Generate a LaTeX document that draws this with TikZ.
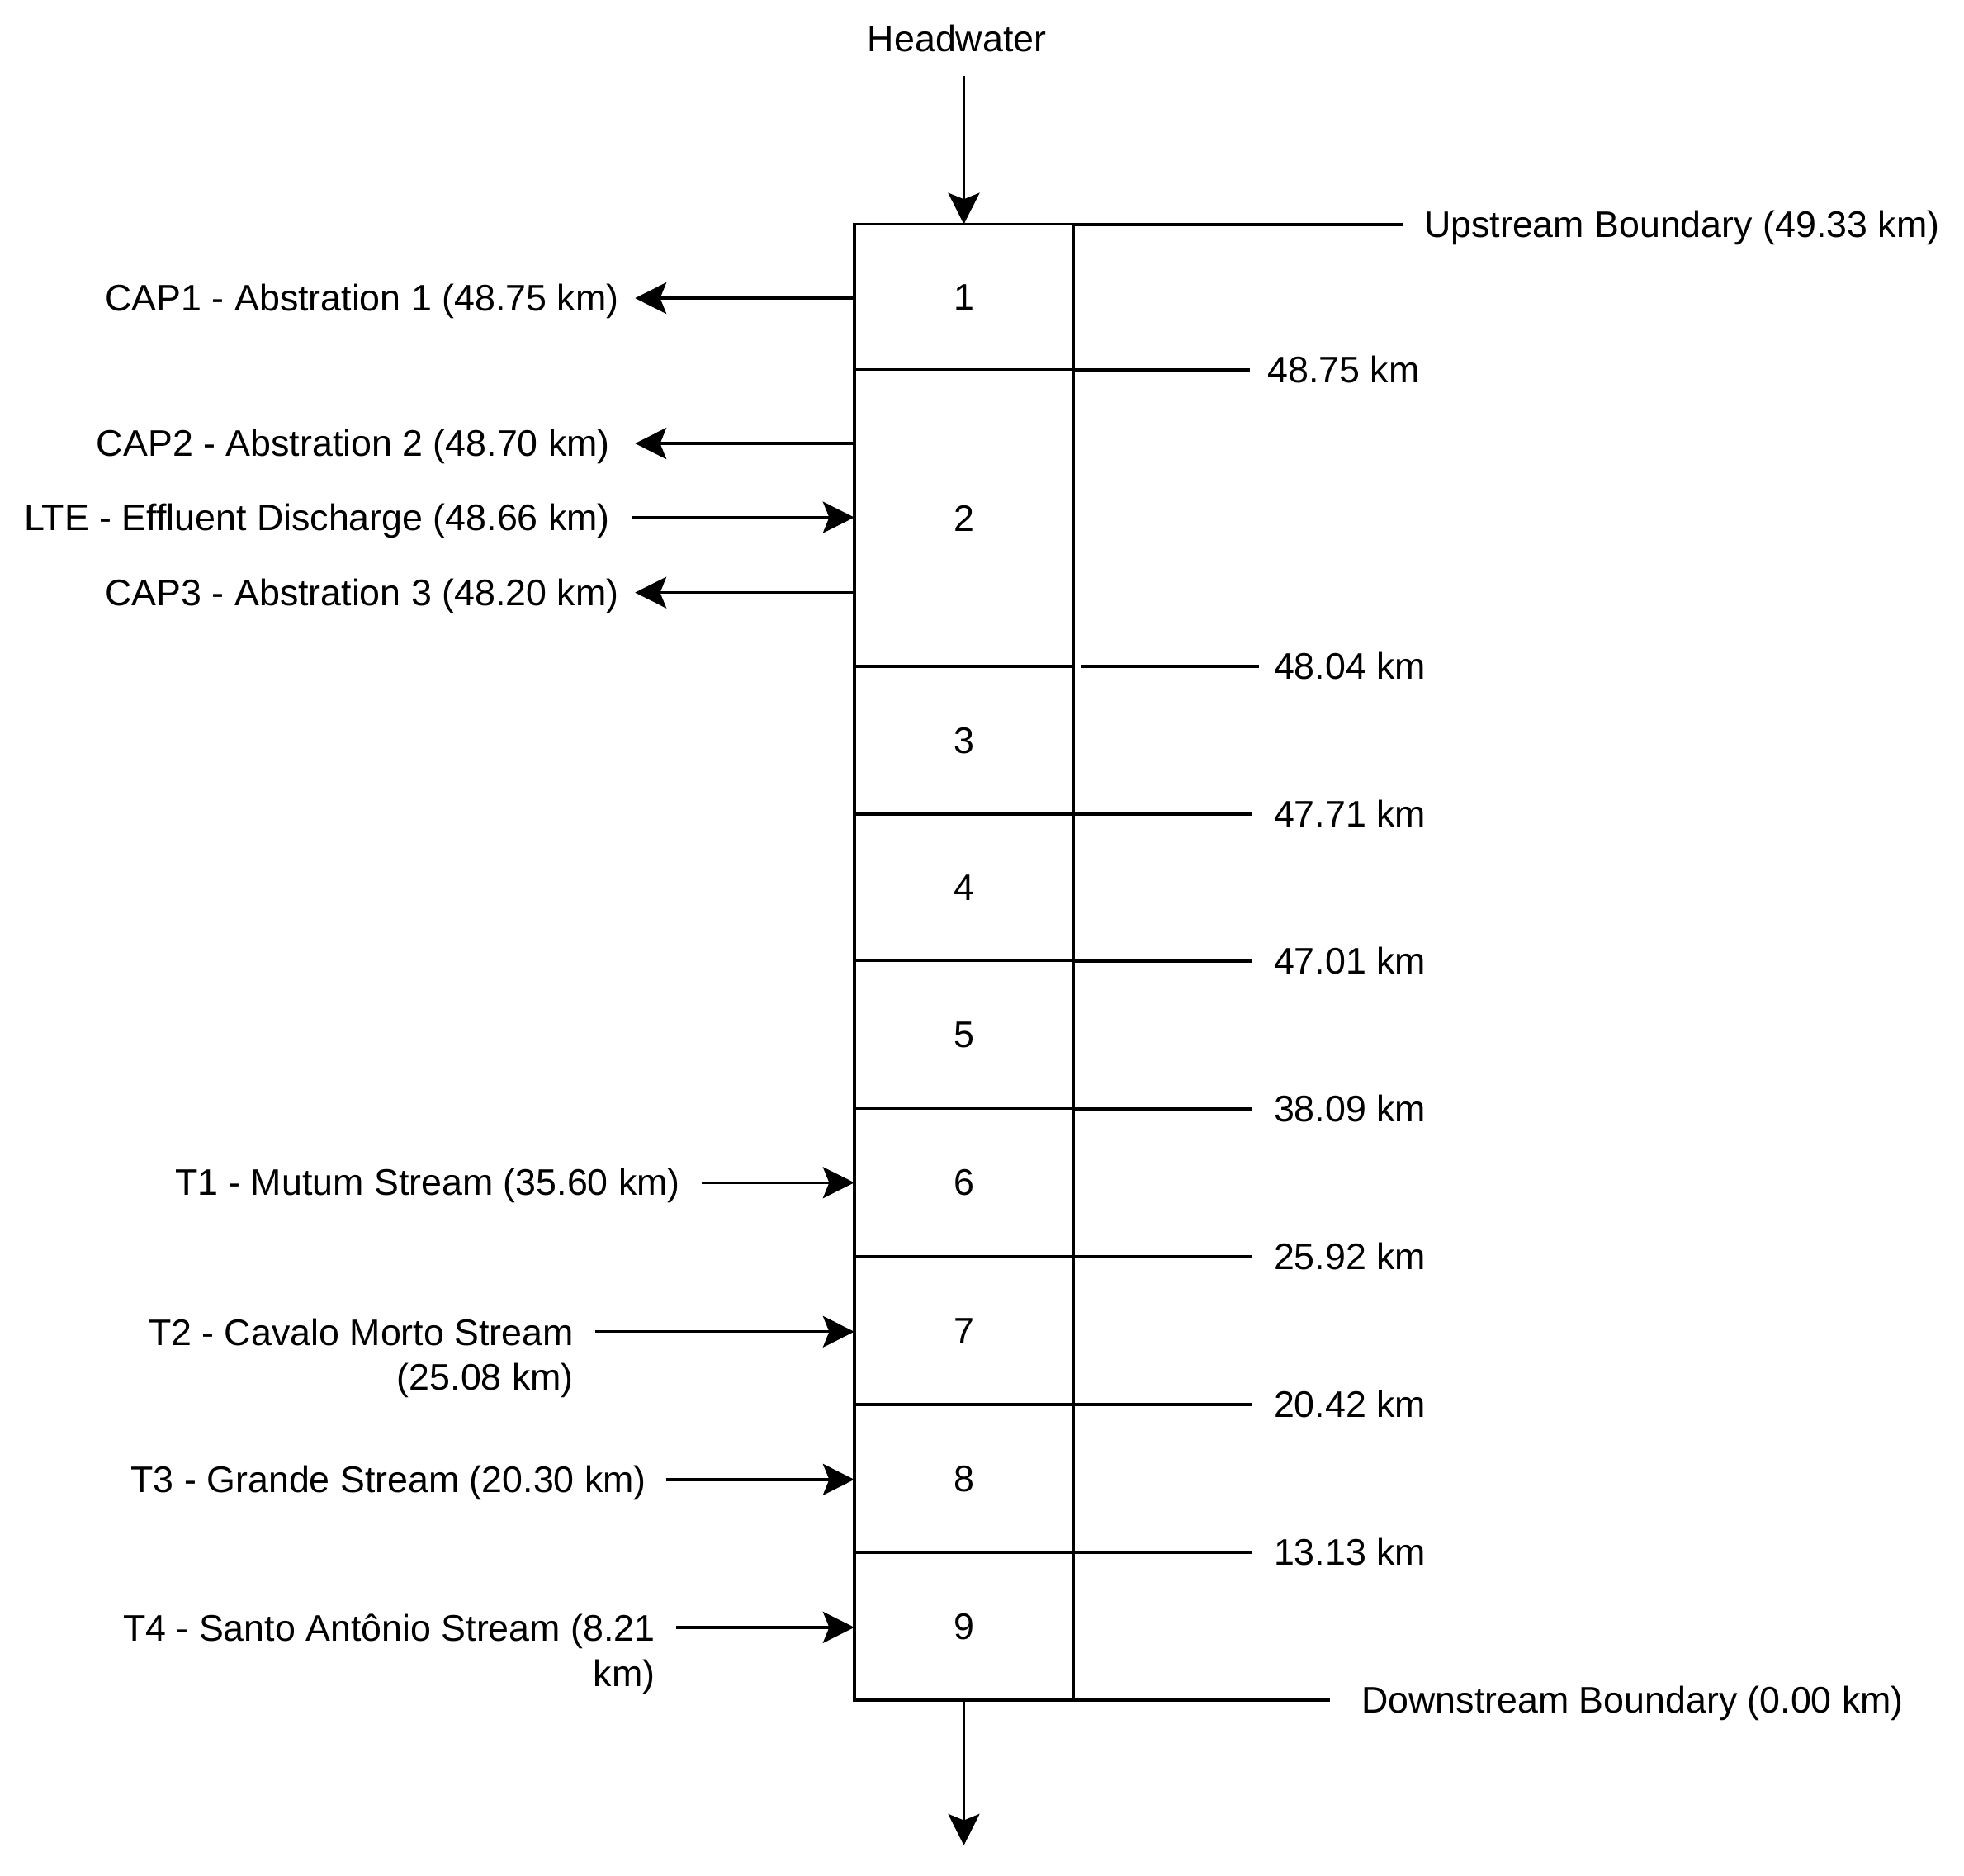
\documentclass[tikz,border=0pt]{standalone}
\usepackage{fontspec}
\setmainfont{Liberation Sans}
\usetikzlibrary{arrows.meta}
\begin{document}
\begin{tikzpicture}[x=0.5pt,y=-0.5pt,
  txt/.style={font=\fontsize{14.75pt}{18pt}\selectfont, inner sep=0pt},
  one/.style={txt, text height=13.3pt, text depth=2.95pt},
  cell/.style={one, draw, line width=1.15pt, minimum width=87.5pt, outer sep=0pt},
  lside/.style={one, anchor=east, outer xsep=#1},
  rside/.style={one, anchor=west, outer xsep=#1},
  arr/.style={line width=1.1pt, -{Stealth[length=12.5pt,width=12.5pt,inset=2.5pt]}},
  thinarr/.style={line width=1.2pt, -{Stealth[length=12.5pt,width=12.5pt,inset=2.5pt]}},
  link/.style={line width=1.3pt}]
\useasboundingbox (0,0) rectangle (1568,1497);

% river segments
\node[cell, minimum height=58pt]   (s1) at (769.5,237)    {1};
\node[cell, minimum height=118.5pt](s2) at (769.5,413.5)  {2};
\node[cell, minimum height=59pt]   (s3) at (769.5,591)    {3};
\node[cell, minimum height=58.5pt] (s4) at (769.5,708.5)  {4};
\node[cell, minimum height=59pt]   (s5) at (769.5,826)    {5};
\node[cell, minimum height=59pt]   (s6) at (769.5,944)    {6};
\node[cell, minimum height=59pt]   (s7) at (769.5,1062)   {7};
\node[cell, minimum height=59pt]   (s8) at (769.5,1180)   {8};
\node[cell, minimum height=59pt]   (s9) at (769.5,1298)   {9};

% headwater and outlet
\node[one] (hw) at (764,31) {Headwater};
\draw[thinarr] ([yshift=-6.5pt]hw.south -| s1.north) -- (s1.north);
\coordinate (out) at (769.5,1473);
\draw[thinarr] (s9.south) -- (out);

% boundary and chainage labels (right)
\node[rside=8.5pt] (ub) at (1120,179) {Upstream Boundary (49.33 km)};
\draw[link] (s1.north east) -- (ub);
\node[rside=7pt] (k1) at (998,295) {48.75 km};
\draw[link] (s1.south east) -- (k1);
\node[rside=6pt] (k2) at (1005,532) {48.04 km};
\draw[link] ([xshift=3pt]s2.south east) -- (k2);
\node[rside=8.5pt] (k3) at (1000,650) {47.71 km};
\draw[link] (s3.south east) -- (k3);
\node[rside=8.5pt] (k4) at (1000,767) {47.01 km};
\draw[link] (s4.south east) -- (k4);
\node[rside=8.5pt] (k5) at (1000,885) {38.09 km};
\draw[link] (s5.south east) -- (k5);
\node[rside=8.5pt] (k6) at (1000,1003) {25.92 km};
\draw[link] (s6.south east) -- (k6);
\node[rside=8.5pt] (k7) at (1000,1121) {20.42 km};
\draw[link] (s7.south east) -- (k7);
\node[rside=8.5pt] (k8) at (1000,1239) {13.13 km};
\draw[link] (s8.south east) -- (k8);
\node[rside=12.5pt] (db) at (1062,1357) {Downstream Boundary (0.00 km)};
\draw[link] (s9.south east) -- (db);

% abstractions and inflows (left)
\coordinate (e1) at (682,238);
\coordinate (e2a) at (682,354);
\coordinate (e2b) at (682,413);
\coordinate (e2c) at (682,473);
\coordinate (e6) at (682,944);
\coordinate (e7) at (682,1063);
\coordinate (e8) at (682,1181);
\coordinate (e9) at (682,1299);

\node[lside=6.5pt] (cap1) at (507,238) {CAP1 - Abstration 1 (48.75 km)};
\draw[arr] (e1) -- (cap1);
\node[lside=10pt] (cap2) at (507,354) {CAP2 - Abstration 2 (48.70 km)};
\draw[arr] (e2a) -- (cap2);
\node[lside=9pt] (lte) at (505,413) {LTE - Effluent Discharge (48.66 km)};
\draw[arr] (lte) -- (e2b);
\node[lside=6.5pt] (cap3) at (507,473) {CAP3 - Abstration 3 (48.20 km)};
\draw[arr] (e2c) -- (cap3);
\node[lside=8.5pt] (t1) at (560,944) {T1 - Mutum Stream (35.60 km)};
\draw[arr] (t1) -- (e6);
\node[txt, align=right, anchor=north east, outer xsep=8.5pt] (t2) at (475,1052)
  {T2 - Cavalo Morto Stream\\(25.08 km)};
\draw[arr] (t2.east |- e7) -- (e7);
\node[lside=8pt] (t3) at (532,1181) {T3 - Grande Stream (20.30 km)};
\draw[arr] (t3) -- (e8);
\node[txt, align=right, anchor=north east, outer xsep=8.5pt] (t4) at (540,1288)
  {T4 - Santo Antônio Stream (8.21\\km)};
\draw[arr] (t4.east |- e9) -- (e9);
\end{tikzpicture}
\end{document}
